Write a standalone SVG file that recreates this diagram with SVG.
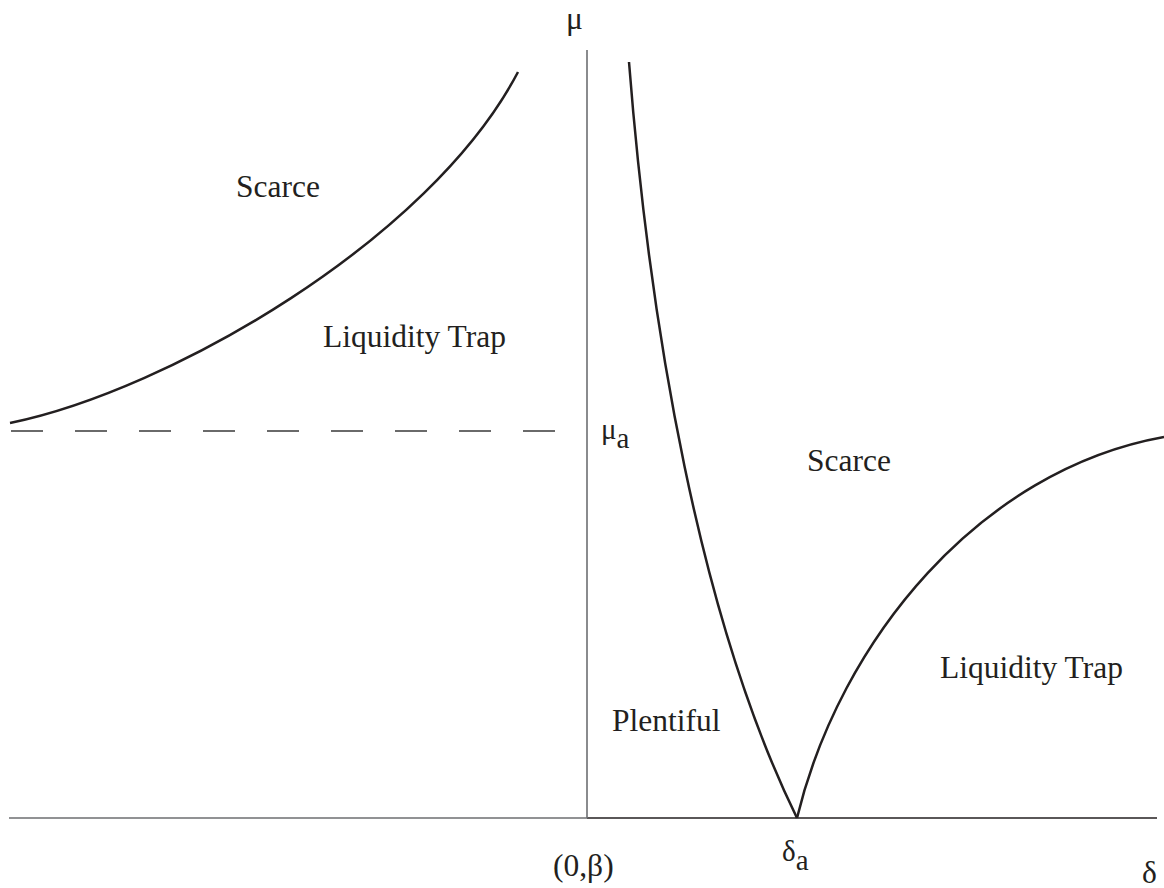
<svg xmlns="http://www.w3.org/2000/svg" width="1164" height="888" viewBox="0 0 1164 888">
  <style>
    .axis-gray { stroke: #6d6e71; stroke-width: 1.6; fill: none; }
    .axis-dark { stroke: #231f20; stroke-width: 1.6; fill: none; }
    .curve { stroke: #231f20; stroke-width: 2.5; fill: none; }
    .dash { stroke: #3a3a3a; stroke-width: 1.5; fill: none; stroke-dasharray: 32 32; }
    text { font-family: "Liberation Serif", "Times New Roman", serif; fill: #231f20; }
    .lbl { font-size: 31.5px; }
    .sym { font-size: 29px; }
  </style>
  <rect x="0" y="0" width="1164" height="888" fill="#ffffff"/>

  <g id="axes">
    <line class="axis-gray" x1="9" y1="818" x2="587" y2="818"/>
    <line class="axis-dark" x1="587" y1="818" x2="1157" y2="818"/>
    <line class="axis-gray" x1="587" y1="50" x2="587" y2="818"/>
  </g>

  <g id="connectors">
    <path class="dash" d="M11,431 L555,431"/>
    <path id="left-boundary" class="curve" d="M10,423 C170,390 430,240 518,72"/>
    <path id="plentiful-boundary" class="curve" d="M629,62 C650,330 700,620 797,818"/>
    <path id="trap-boundary" class="curve" d="M797,818 C840,640 980,470 1164,437"/>
  </g>

  <g id="region-labels">
    <text class="lbl" x="236" y="197">Scarce</text>
    <text class="lbl" x="323" y="347">Liquidity Trap</text>
    <text class="lbl" x="807" y="471">Scarce</text>
    <text class="lbl" x="940" y="678">Liquidity Trap</text>
    <text class="lbl" x="612" y="731">Plentiful</text>
  </g>

  <g id="axis-labels">
    <text class="lbl" x="566" y="29">μ</text>
    <text class="sym" x="601" y="439">μ<tspan dy="9">a</tspan></text>
    <text class="sym" x="782" y="861">δ<tspan dy="9">a</tspan></text>
    <text class="lbl" x="553" y="876">(0,β)</text>
    <text class="lbl" x="1142" y="883">δ</text>
  </g>
</svg>
